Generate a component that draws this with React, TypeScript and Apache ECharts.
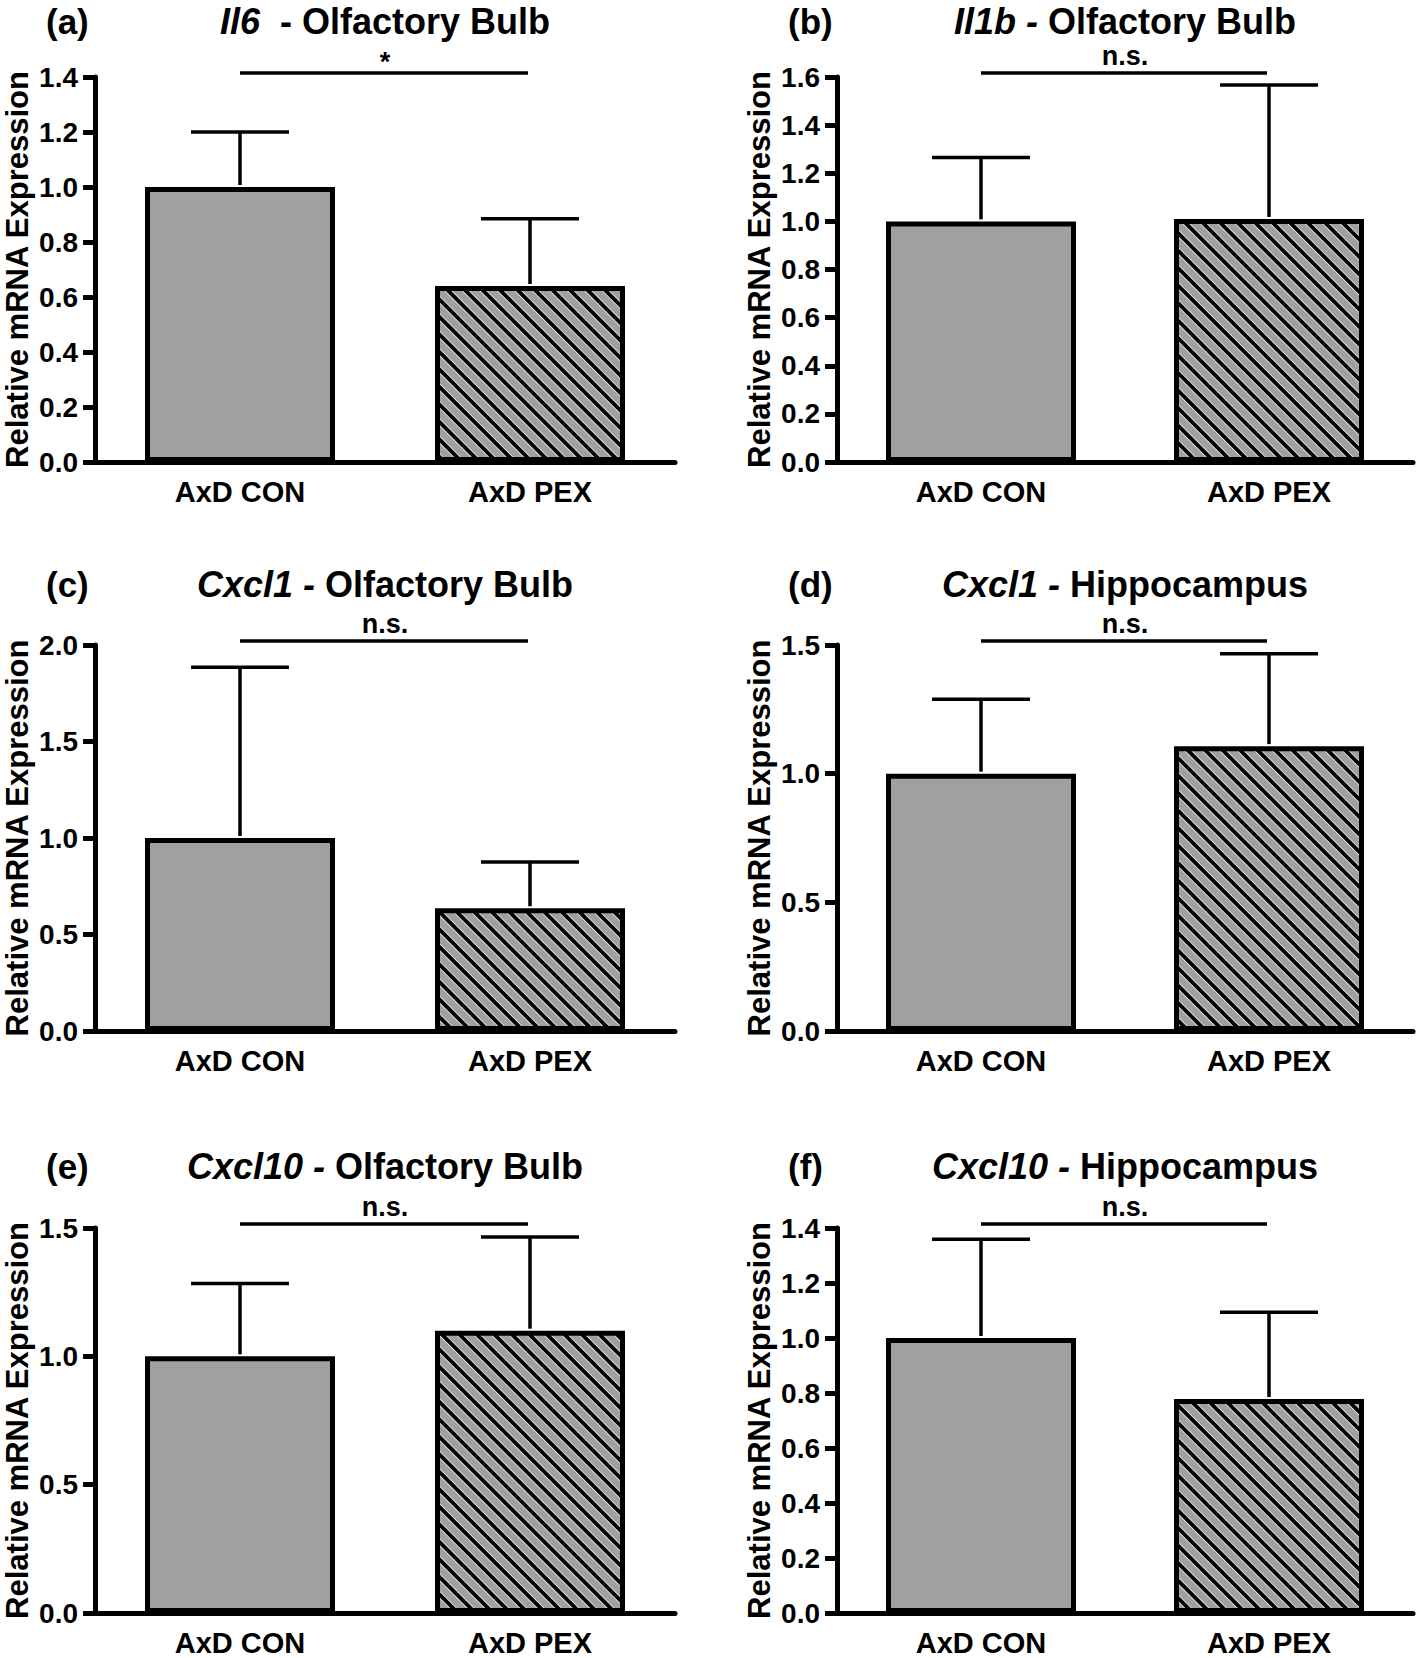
import React, { useEffect, useRef } from "react";
import * as echarts from "echarts";

// ---- data ----
const CATEGORIES = ["AxD CON", "AxD PEX"];
const PANEL_LABELS = ["(a)", "(b)", "(c)", "(d)", "(e)", "(f)"];
const GENES = ["Il6", "Il1b", "Cxcl1", "Cxcl1", "Cxcl10", "Cxcl10"];
const REGIONS = ["Olfactory Bulb", "Olfactory Bulb", "Olfactory Bulb", "Hippocampus", "Olfactory Bulb", "Hippocampus"];
const MEAN_CON = [1.0, 1.0, 1.0, 1.0, 1.0, 1.0];
const MEAN_PEX = [0.64, 1.01, 0.636, 1.107, 1.1, 0.778];
const UPPER_CON = [1.2, 1.265, 1.885, 1.289, 1.284, 1.359];
const UPPER_PEX = [0.885, 1.567, 0.876, 1.466, 1.465, 1.094];
const Y_MAX = [1.4, 1.6, 2.0, 1.5, 1.5, 1.4];
const Y_STEP = [0.2, 0.2, 0.5, 0.5, 0.5, 0.2];
const SIG = ["*", "n.s.", "n.s.", "n.s.", "n.s.", "n.s."];
const Y_NAME = "Relative mRNA Expression";

const FONT = '"Liberation Sans", Arial, Helvetica, sans-serif';
const GRAY = "#a0a0a0";

const COL_LEFT = [95, 837];
const COL_WIDTH = [580, 576];
const ROW_TOP = [77, 645, 1228];
const ROW_HEIGHT = [385, 386, 385];
const TITLE_Y = [21, 584, 1166];

function makeHatch(): HTMLCanvasElement {
  const s = 17.5;
  const size = 35;
  const c = document.createElement("canvas");
  c.width = size;
  c.height = size;
  const ctx = c.getContext("2d")!;
  ctx.fillStyle = GRAY;
  ctx.fillRect(0, 0, size, size);
  const draw = (color: string, w: number) => {
    ctx.strokeStyle = color;
    ctx.lineWidth = w;
    ctx.beginPath();
    for (let k = -4; k <= 4; k++) {
      ctx.moveTo(k * s - size, -size);
      ctx.lineTo(k * s + 2 * size, 2 * size);
    }
    ctx.stroke();
  };
  draw("#e6e6e6", 5.6);
  draw("#000000", 3.8);
  return c;
}

export default function App() {
  const ref = useRef<HTMLDivElement>(null);
  useEffect(() => {
    if (!ref.current) return;
    const chart = echarts.init(ref.current, null, { renderer: "svg" });
    const hatch = makeHatch();

    const grids: any[] = [];
    const xAxes: any[] = [];
    const yAxes: any[] = [];
    const series: any[] = [];
    const graphics: any[] = [];

    for (let i = 0; i < 6; i++) {
      const col = i % 2;
      const row = Math.floor(i / 2);
      const left = COL_LEFT[col];
      const width = COL_WIDTH[col];
      grids.push({ left, top: ROW_TOP[row], width, height: ROW_HEIGHT[row], containLabel: false });
      xAxes.push({
        type: "category",
        gridIndex: i,
        data: CATEGORIES,
        boundaryGap: true,
        axisLine: { lineStyle: { color: "#000", width: 5 } },
        axisTick: { alignWithLabel: true, length: 14, lineStyle: { color: "#000", width: 5 } },
        axisLabel: { color: "#000", fontFamily: FONT, fontWeight: "bold", fontSize: 29, margin: 15 },
        splitLine: { show: false },
      });
      yAxes.push({
        type: "value",
        gridIndex: i,
        min: 0,
        max: Y_MAX[i],
        interval: Y_STEP[i],
        name: Y_NAME,
        nameLocation: "middle",
        nameRotate: 90,
        nameGap: 62,
        nameTextStyle: { color: "#000", fontFamily: FONT, fontWeight: "bold", fontSize: 31 },
        axisLine: { show: true, lineStyle: { color: "#000", width: 5 } },
        axisTick: { show: true, length: 12, lineStyle: { color: "#000", width: 5 } },
        axisLabel: {
          color: "#000",
          fontFamily: FONT,
          fontWeight: "bold",
          fontSize: 28,
          margin: 17,
          formatter: (v: number) => v.toFixed(1),
        },
        splitLine: { show: false },
      });
      series.push({
        type: "bar",
        xAxisIndex: i,
        yAxisIndex: i,
        barWidth: 190,
        data: [
          { value: MEAN_CON[i], itemStyle: { color: GRAY } },
          { value: MEAN_PEX[i], itemStyle: { color: { image: hatch, repeat: "repeat" } } },
        ],
        itemStyle: { borderColor: "#000", borderWidth: 5 },
        z: 2,
      });
      series.push({
        type: "custom",
        xAxisIndex: i,
        yAxisIndex: i,
        z: 3,
        data: [
          [0, MEAN_CON[i], UPPER_CON[i]],
          [1, MEAN_PEX[i], UPPER_PEX[i]],
        ],
        renderItem: (params: any, api: any) => {
          const base = api.coord([api.value(0), api.value(1)]);
          const top = api.coord([api.value(0), api.value(2)]);
          const cx = base[0];
          const style = { stroke: "#000", lineWidth: 3.5 };
          return {
            type: "group",
            children: [
              { type: "line", shape: { x1: cx, y1: base[1] - 2, x2: cx, y2: top[1] }, style },
              { type: "line", shape: { x1: cx - 49, y1: top[1], x2: cx + 49, y2: top[1] }, style },
            ],
          };
        },
      });
      const sig = SIG[i];
      const yMax = Y_MAX[i];
      series.push({
        type: "custom",
        xAxisIndex: i,
        yAxisIndex: i,
        z: 3,
        clip: false,
        data: [[0, yMax]],
        renderItem: (params: any, api: any) => {
          const p0 = api.coord([0, yMax]);
          const p1 = api.coord([1, yMax]);
          const y = p0[1] - 4;
          const isStar = sig === "*";
          return {
            type: "group",
            children: [
              { type: "line", shape: { x1: p0[0], y1: y, x2: p1[0] - 2, y2: y }, style: { stroke: "#000", lineWidth: 3.5 } },
              {
                type: "text",
                x: (p0[0] + p1[0]) / 2,
                y: isStar ? y + 2 : y - 4,
                style: {
                  text: sig,
                  fill: "#000",
                  font: `bold 27px ${FONT}`,
                  align: "center",
                  verticalAlign: "bottom",
                },
              },
            ],
          };
        },
      });

      // panel letter and title
      graphics.push({
        type: "text",
        x: left - 49,
        y: TITLE_Y[row],
        style: {
          text: PANEL_LABELS[i],
          fill: "#000",
          font: `bold 35px ${FONT}`,
          align: "left",
          verticalAlign: "middle",
        },
      });
      const italicPart = i === 0 ? GENES[i] : GENES[i] + " -";
      const rest = i === 0 ? "  - " + REGIONS[i] : " " + REGIONS[i];
      graphics.push({
        type: "text",
        x: left + width / 2,
        y: TITLE_Y[row],
        style: {
          text: `{i|${italicPart}}{n|${rest}}`,
          align: "center",
          verticalAlign: "middle",
          rich: {
            i: { fontStyle: "italic", fontWeight: "bold", fontSize: 36, fontFamily: FONT, fill: "#000" },
            n: { fontWeight: "bold", fontSize: 36, fontFamily: FONT, fill: "#000" },
          },
        },
      });
    }

    chart.setOption({
      animation: false,
      backgroundColor: "#fff",
      grid: grids,
      xAxis: xAxes,
      yAxis: yAxes,
      series,
      graphic: graphics,
    });
    return () => chart.dispose();
  }, []);

  return <div ref={ref} style={{ position: "absolute", left: 0, top: 0, width: 1418, height: 1658 }} />;
}
